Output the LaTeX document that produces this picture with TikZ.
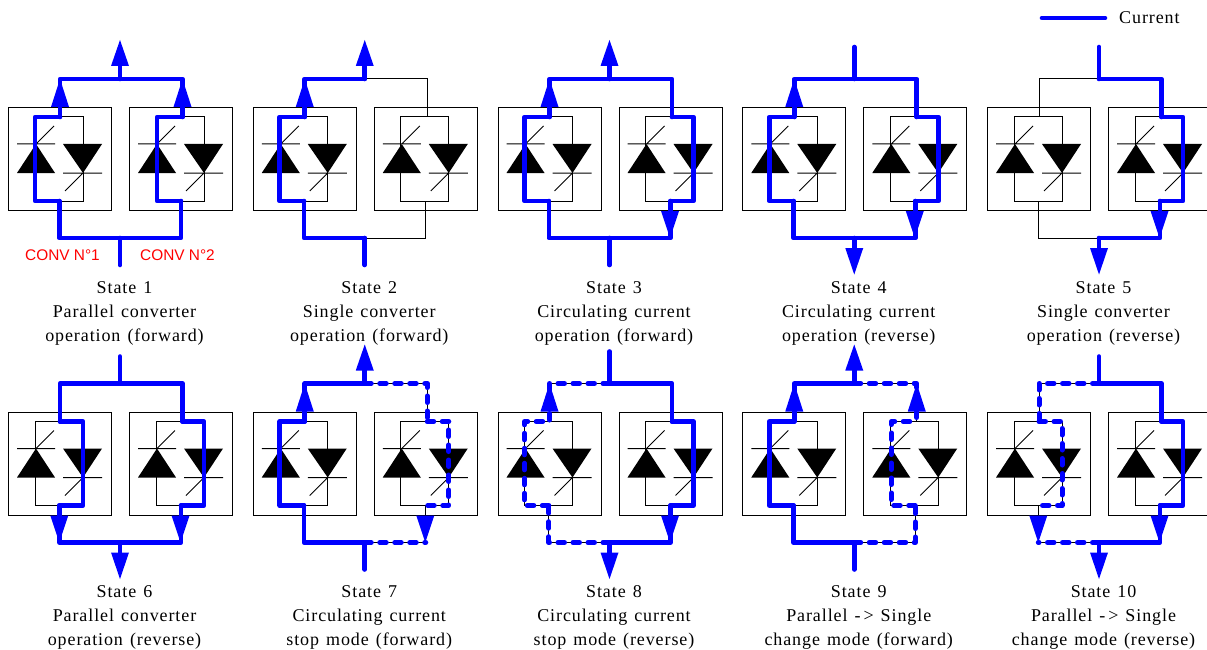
\documentclass[tikz,border=0pt]{standalone}
\usepackage{fontspec}
\setmainfont{Liberation Serif}
\newfontfamily\labelsans{Liberation Sans}
\newfontfamily\capfont[LetterSpace=5,WordSpace=1.3]{Liberation Serif}
\definecolor{cur}{RGB}{0,0,255}
\tikzset{
  x=1pt,y=-1pt,
  thin wire/.style={draw=black,line width=1pt},
  cur wire/.style={draw=cur,line width=4.6pt,line join=round,line cap=round},
  cur dash/.style={draw=cur,line width=5pt,line join=round,line cap=round,dash pattern=on 6.5pt off 8.5pt},
  caption/.style={font=\capfont\fontsize{18}{24}\selectfont,align=center,anchor=north,text=black,inner sep=0pt},
  conv label/.style={font=\labelsans\fontsize{15.4}{16}\selectfont,text=red,inner sep=0pt},
  dev fill/.style={fill=black,draw=none},
  head/.style={fill=cur,draw=none}
}
% points common to every panel
\newcommand{\panelpoints}{%
  \coordinate (tl) at (60,79);\coordinate (tm) at (120,79);\coordinate (tr) at (182.5,79);
  \coordinate (bl) at (59.3,238);\coordinate (bm) at (120,238);\coordinate (br) at (181,238);
  \coordinate (a1) at (35,117);\coordinate (c1) at (60,117);\coordinate (d1) at (83,117);
  \coordinate (a2) at (35,201);\coordinate (c2) at (59.3,201);\coordinate (d2) at (83,201);
  \coordinate (e1) at (157,117);\coordinate (f1) at (182.5,117);\coordinate (g1) at (204,117);
  \coordinate (e2) at (157,201);\coordinate (f2) at (181,201);\coordinate (g2) at (204,201);
  \coordinate (topend) at (120,47);\coordinate (topendb) at (120,52);\coordinate (botend) at (120,265);
}
\newcommand{\oneconv}[1]{%
  \begin{scope}[shift={(#1,0)}]
    \node[draw=black,line width=1pt,minimum width=103pt,minimum height=103pt,inner sep=0pt,anchor=north west] (box) at (8,107) {};
    \draw[thin wire] (35,117) rectangle (83,201);
    \path[dev fill] (17,173) -- (55,173) -- (36,144) -- cycle;
    \path[dev fill] (63,144) -- (102,144) -- (83,173) -- cycle;
    \draw[thin wire] (17,144) -- (55,144) (36,144) -- (54,126);
    \draw[thin wire] (63,173) -- (102,173) (83,173) -- (65,191);
  \end{scope}
}
\newcommand{\basepanel}{%
  \panelpoints
  \oneconv{0}\oneconv{121}
  \draw[thin wire] (c1) |- (tr) -- (f1);
  \draw[thin wire] (c2) |- (br) -- (f2);
}
\newcommand{\rup}[1]{\path[head] (#1-9,107) -- (#1,79) -- (#1+9,107) -- cycle;}
\newcommand{\rdown}{\path[head] (171.5,211) -- (189.5,211) -- (180.5,238) -- cycle;}
\newcommand{\ldown}{\path[head] (50.3,211) -- (68.3,211) -- (59.3,238) -- cycle;}
\newcommand{\topout}{\draw[cur wire] (tm) -- (120,62); \path[head] (111,66) -- (129,66) -- (120,40) -- cycle;}
\newcommand{\topin}{\draw[cur wire] (tm) -- (topend);}
\newcommand{\topinb}{\draw[cur wire] (tm) -- (topendb);}
\newcommand{\botout}{\draw[cur wire] (bm) -- (120,252); \path[head] (111,248) -- (129,248) -- (120,274.5) -- cycle;}
\newcommand{\botin}{\draw[cur wire] (bm) -- (botend);}
% conduction loops through each converter
\newcommand{\lfwd}[1]{\draw[#1] (c2) -- (a2) -- (a1) -- (c1);}
\newcommand{\lrev}[1]{\draw[#1] (c1) -- (d1) -- (d2) -- (c2);}
\newcommand{\rfwd}[1]{\draw[#1] (f2) -- (e2) -- (e1) -- (f1);}
\newcommand{\rrev}[1]{\draw[#1] (f1) -- (g1) -- (g2) -- (f2);}
% rails
\newcommand{\lt}[1]{\draw[#1] (tm) -- (tl) -- (c1);}
\newcommand{\rt}[1]{\draw[#1] (tm) -- (tr) -- (f1);}
\newcommand{\lb}[1]{\draw[#1] (bm) -- (bl) -- (c2);}
\newcommand{\rb}[1]{\draw[#1] (bm) -- (br) -- (f2);}
\newcommand{\captext}[3]{\node[caption] (cap#1) at (124.5,281) {State #1\\#2\\#3};}
\begin{document}
\begin{tikzpicture}
\useasboundingbox (0,0) rectangle (1207,650);
% State 1
\begin{scope}[shift={(0,0)}]\basepanel
\lt{cur wire}\rt{cur wire}\lb{cur wire}\rb{cur wire}\lfwd{cur wire}\rfwd{cur wire}
\rup{60}\rup{182.5}\topout\botin
\captext{1}{Parallel converter}{operation (forward)}
\node[conv label] (conv1) at (62.5,255) {CONV N°1};
\node[conv label] (conv2) at (177.5,255) {CONV N°2};
\end{scope}
% State 2
\begin{scope}[shift={(244.75,0)}]\basepanel
\lt{cur wire}\lb{cur wire}\lfwd{cur wire}\rup{60}\topout\botin
\captext{2}{Single converter}{operation (forward)}
\end{scope}
% State 3
\begin{scope}[shift={(489.5,0)}]\basepanel
\lt{cur wire}\rt{cur wire}\lb{cur wire}\rb{cur wire}\lfwd{cur wire}\rrev{cur wire}
\rup{60}\rdown\topout\botin
\captext{3}{Circulating current}{operation (forward)}
\end{scope}
% State 4
\begin{scope}[shift={(734.25,0)}]\basepanel
\lt{cur wire}\rt{cur wire}\lb{cur wire}\rb{cur wire}\lfwd{cur wire}\rrev{cur wire}
\rup{60}\rdown\topin\botout
\captext{4}{Circulating current}{operation (reverse)}
\end{scope}
% State 5
\begin{scope}[shift={(979,0)}]\basepanel
\rt{cur wire}\rb{cur wire}\rrev{cur wire}\rdown\topin\botout
\captext{5}{Single converter}{operation (reverse)}
\end{scope}
% State 6
\begin{scope}[shift={(0,304.5)}]\basepanel
\lt{cur wire}\rt{cur wire}\lb{cur wire}\rb{cur wire}\lrev{cur wire}\rrev{cur wire}
\ldown\rdown\topinb\botout
\captext{6}{Parallel converter}{operation (reverse)}
\end{scope}
% State 7
\begin{scope}[shift={(244.75,304.5)}]\basepanel
\lt{cur wire}\lb{cur wire}\lfwd{cur wire}\rt{cur dash}\rrev{cur dash}\draw[cur dash] (bm) -- (br);
\rup{60}\rdown\topout\botin
\captext{7}{Circulating current}{stop mode (forward)}
\end{scope}
% State 8
\begin{scope}[shift={(489.5,304.5)}]\basepanel
\rt{cur wire}\rb{cur wire}\rrev{cur wire}\lt{cur dash}\lfwd{cur dash}\lb{cur dash}
\rup{60}\rdown\topin\botout
\captext{8}{Circulating current}{stop mode (reverse)}
\end{scope}
% State 9
\begin{scope}[shift={(734.25,304.5)}]\basepanel
\lt{cur wire}\lb{cur wire}\lfwd{cur wire}\rt{cur dash}\rfwd{cur dash}\rb{cur dash}
\rup{60}\rup{182.5}\topout\botin
\captext{9}{Parallel -\,> Single}{change mode (forward)}
\end{scope}
% State 10
\begin{scope}[shift={(979,304.5)}]\basepanel
\rt{cur wire}\rb{cur wire}\rrev{cur wire}\lt{cur dash}\lrev{cur dash}\draw[cur dash] (bm) -- (bl);
\ldown\rdown\topinb\botout
\captext{10}{Parallel -\,> Single}{change mode (reverse)}
\end{scope}
% legend
\coordinate (legA) at (1042,18);\coordinate (legB) at (1105,18);
\draw[cur wire] (legA) -- (legB);
\node[font=\capfont\fontsize{18}{20}\selectfont,anchor=west,inner sep=0pt] (legend) at (1119,18) {Current};
\end{tikzpicture}
\end{document}
